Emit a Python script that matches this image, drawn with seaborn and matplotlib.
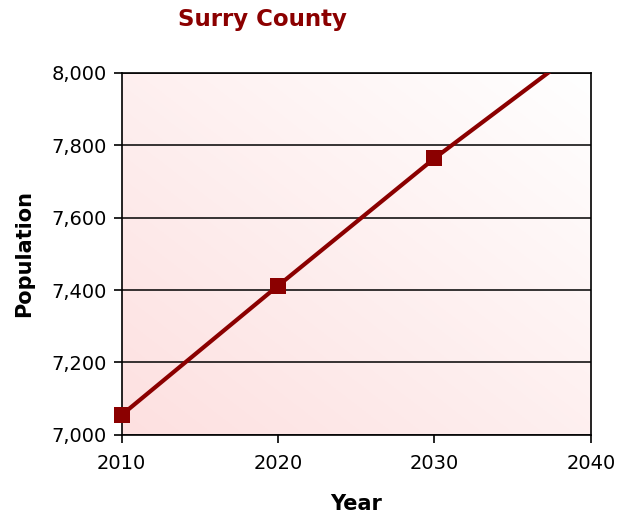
import seaborn as sns
import matplotlib.pyplot as plt
import pandas as pd
import numpy as np

# Surry County population projection
years = [2010, 2020, 2030, 2040]
population = [7055, 7412, 7764, 8089]
ytick_vals = [7000, 7200, 7400, 7600, 7800, 8000]

df = pd.DataFrame({'Year': years, 'Population': population})
shown = df[df['Population'] <= 8000]

sns.set_style('white')
fig = plt.figure(figsize=(6.18, 5.17), dpi=100)
ax = fig.add_axes([0.197, 0.159, 0.759, 0.700])

# pink-to-white diagonal gradient behind the plot
gx, gy = np.meshgrid(np.linspace(0, 1, 200), np.linspace(0, 1, 200))
t = (gx + gy) / 2
pink = np.array([253, 224, 224]) / 255
grad = pink[None, None, :] + (1 - pink)[None, None, :] * t[..., None]
ax.imshow(grad, extent=[0, 1, 0, 1], transform=ax.transAxes,
          origin='lower', aspect='auto', zorder=0)

sns.lineplot(data=df, x='Year', y='Population', ax=ax,
             color='#8b0000', linewidth=3, zorder=3)
sns.scatterplot(data=shown, x='Year', y='Population', ax=ax,
                color='#8b0000', marker='s', s=130, linewidth=0,
                zorder=4, clip_on=False)

ax.set_xlim(2010, 2040)
ax.set_ylim(7000, 8000)
ax.set_xticks(years)
ax.set_yticks(ytick_vals)
ax.set_yticklabels([f'{v:,}' for v in ytick_vals])
ax.yaxis.grid(True, color='black', linewidth=1.1)
ax.set_axisbelow(False)
for s in ax.spines.values():
    s.set_color('black')
    s.set_linewidth(1.2)
ax.tick_params(axis='both', direction='out', length=6, width=1.2,
               color='black', labelsize=14, labelcolor='black',
               left=True, bottom=True)
ax.tick_params(axis='y', pad=5)
ax.tick_params(axis='x', pad=8)

ax.set_xlabel('Year', fontsize=15, fontweight='bold', color='black', labelpad=15)
ax.set_ylabel('Population', fontsize=15, fontweight='bold', color='black', labelpad=12)
fig.suptitle('Surry County', fontsize=16.5, fontweight='bold',
             color='#8b0000', x=0.424, y=0.985)

plt.savefig('out.png', dpi=100)
